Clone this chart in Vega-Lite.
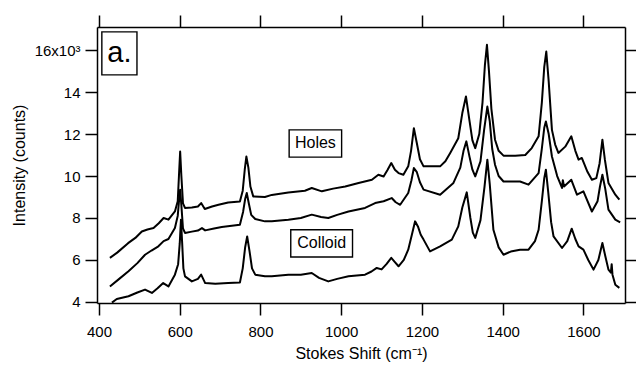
{
  "$schema": "https://vega.github.io/schema/vega-lite/v6.json",
  "width": 528,
  "height": 276,
  "autosize": {"type": "none"},
  "padding": {"left": 97, "top": 27, "right": 11, "bottom": 62},
  "background": "white",
  "config": {
    "view": {"stroke": null},
    "font": "Liberation Sans",
    "axis": {
      "grid": false,
      "domainColor": "black",
      "domainWidth": 1.5,
      "tickColor": "black",
      "tickWidth": 1.5,
      "tickSize": 12,
      "labelFont": "Liberation Sans",
      "labelFontSize": 15,
      "labelColor": "black",
      "titleFont": "Liberation Sans",
      "titleFontSize": 16,
      "titleFontWeight": "normal",
      "titleColor": "black"
    }
  },
  "datasets": {
    "spectra": [
      {"series": "Holes", "shift": 427, "counts": 6.1},
      {"series": "Holes", "shift": 445, "counts": 6.35},
      {"series": "Holes", "shift": 472, "counts": 6.8},
      {"series": "Holes", "shift": 490, "counts": 7.05},
      {"series": "Holes", "shift": 506, "counts": 7.36},
      {"series": "Holes", "shift": 520, "counts": 7.45},
      {"series": "Holes", "shift": 535, "counts": 7.52},
      {"series": "Holes", "shift": 548, "counts": 7.75},
      {"series": "Holes", "shift": 560, "counts": 8.0},
      {"series": "Holes", "shift": 572, "counts": 7.92},
      {"series": "Holes", "shift": 588, "counts": 8.31},
      {"series": "Holes", "shift": 595, "counts": 8.8},
      {"series": "Holes", "shift": 598, "counts": 10.0},
      {"series": "Holes", "shift": 601, "counts": 11.17},
      {"series": "Holes", "shift": 604, "counts": 10.0},
      {"series": "Holes", "shift": 608, "counts": 8.7},
      {"series": "Holes", "shift": 613, "counts": 8.48},
      {"series": "Holes", "shift": 630, "counts": 8.5},
      {"series": "Holes", "shift": 645, "counts": 8.55},
      {"series": "Holes", "shift": 653, "counts": 8.71},
      {"series": "Holes", "shift": 662, "counts": 8.43},
      {"series": "Holes", "shift": 680, "counts": 8.55},
      {"series": "Holes", "shift": 696, "counts": 8.63},
      {"series": "Holes", "shift": 720, "counts": 8.74},
      {"series": "Holes", "shift": 749, "counts": 8.79},
      {"series": "Holes", "shift": 756, "counts": 9.3},
      {"series": "Holes", "shift": 761, "counts": 10.3},
      {"series": "Holes", "shift": 765, "counts": 10.93},
      {"series": "Holes", "shift": 770, "counts": 10.4},
      {"series": "Holes", "shift": 775, "counts": 9.5},
      {"series": "Holes", "shift": 782, "counts": 9.03},
      {"series": "Holes", "shift": 811, "counts": 9.0},
      {"series": "Holes", "shift": 828, "counts": 9.1},
      {"series": "Holes", "shift": 869, "counts": 9.22},
      {"series": "Holes", "shift": 910, "counts": 9.3},
      {"series": "Holes", "shift": 927, "counts": 9.43},
      {"series": "Holes", "shift": 952, "counts": 9.27},
      {"series": "Holes", "shift": 980, "counts": 9.4},
      {"series": "Holes", "shift": 1010, "counts": 9.5},
      {"series": "Holes", "shift": 1043, "counts": 9.67},
      {"series": "Holes", "shift": 1076, "counts": 9.82},
      {"series": "Holes", "shift": 1092, "counts": 10.06},
      {"series": "Holes", "shift": 1105, "counts": 9.98},
      {"series": "Holes", "shift": 1115, "counts": 10.3},
      {"series": "Holes", "shift": 1124, "counts": 10.62},
      {"series": "Holes", "shift": 1133, "counts": 10.3},
      {"series": "Holes", "shift": 1142, "counts": 10.14},
      {"series": "Holes", "shift": 1154, "counts": 10.06},
      {"series": "Holes", "shift": 1166, "counts": 10.46},
      {"series": "Holes", "shift": 1173, "counts": 11.2},
      {"series": "Holes", "shift": 1180, "counts": 12.28},
      {"series": "Holes", "shift": 1187, "counts": 11.6},
      {"series": "Holes", "shift": 1195, "counts": 10.8},
      {"series": "Holes", "shift": 1204, "counts": 10.46},
      {"series": "Holes", "shift": 1245, "counts": 10.46},
      {"series": "Holes", "shift": 1258, "counts": 10.7},
      {"series": "Holes", "shift": 1270, "counts": 11.1},
      {"series": "Holes", "shift": 1290, "counts": 11.8},
      {"series": "Holes", "shift": 1300, "counts": 13.0},
      {"series": "Holes", "shift": 1309, "counts": 13.79},
      {"series": "Holes", "shift": 1318, "counts": 12.6},
      {"series": "Holes", "shift": 1325, "counts": 11.7},
      {"series": "Holes", "shift": 1332, "counts": 11.33},
      {"series": "Holes", "shift": 1342, "counts": 12.0},
      {"series": "Holes", "shift": 1350, "counts": 13.5},
      {"series": "Holes", "shift": 1356, "counts": 15.3},
      {"series": "Holes", "shift": 1361, "counts": 16.25},
      {"series": "Holes", "shift": 1366, "counts": 15.0},
      {"series": "Holes", "shift": 1372, "counts": 13.2},
      {"series": "Holes", "shift": 1381, "counts": 11.73},
      {"series": "Holes", "shift": 1390, "counts": 11.2},
      {"series": "Holes", "shift": 1402, "counts": 10.97},
      {"series": "Holes", "shift": 1431, "counts": 10.97},
      {"series": "Holes", "shift": 1456, "counts": 11.0},
      {"series": "Holes", "shift": 1472, "counts": 11.33},
      {"series": "Holes", "shift": 1489, "counts": 11.89},
      {"series": "Holes", "shift": 1497, "counts": 13.5},
      {"series": "Holes", "shift": 1503, "counts": 15.2},
      {"series": "Holes", "shift": 1508, "counts": 15.93},
      {"series": "Holes", "shift": 1514, "counts": 14.5},
      {"series": "Holes", "shift": 1522, "counts": 12.2},
      {"series": "Holes", "shift": 1530, "counts": 11.5},
      {"series": "Holes", "shift": 1538, "counts": 11.1},
      {"series": "Holes", "shift": 1555, "counts": 11.4},
      {"series": "Holes", "shift": 1570, "counts": 11.89},
      {"series": "Holes", "shift": 1580, "counts": 11.2},
      {"series": "Holes", "shift": 1588, "counts": 10.78},
      {"series": "Holes", "shift": 1596, "counts": 10.86},
      {"series": "Holes", "shift": 1610, "counts": 10.2},
      {"series": "Holes", "shift": 1621, "counts": 9.82},
      {"series": "Holes", "shift": 1632, "counts": 9.9},
      {"series": "Holes", "shift": 1640, "counts": 10.6},
      {"series": "Holes", "shift": 1647, "counts": 11.73},
      {"series": "Holes", "shift": 1653, "counts": 10.8},
      {"series": "Holes", "shift": 1662, "counts": 9.67},
      {"series": "Holes", "shift": 1679, "counts": 9.11},
      {"series": "Holes", "shift": 1689, "counts": 8.87},

      {"series": "Middle", "shift": 427, "counts": 4.74},
      {"series": "Middle", "shift": 450, "counts": 5.1},
      {"series": "Middle", "shift": 473, "counts": 5.46},
      {"series": "Middle", "shift": 495, "counts": 5.85},
      {"series": "Middle", "shift": 514, "counts": 6.25},
      {"series": "Middle", "shift": 530, "counts": 6.45},
      {"series": "Middle", "shift": 547, "counts": 6.65},
      {"series": "Middle", "shift": 560, "counts": 6.9},
      {"series": "Middle", "shift": 572, "counts": 7.0},
      {"series": "Middle", "shift": 588, "counts": 7.52},
      {"series": "Middle", "shift": 595, "counts": 8.1},
      {"series": "Middle", "shift": 599, "counts": 9.0},
      {"series": "Middle", "shift": 601, "counts": 9.35},
      {"series": "Middle", "shift": 604, "counts": 8.6},
      {"series": "Middle", "shift": 608, "counts": 7.5},
      {"series": "Middle", "shift": 613, "counts": 7.29},
      {"series": "Middle", "shift": 630, "counts": 7.35},
      {"series": "Middle", "shift": 645, "counts": 7.4},
      {"series": "Middle", "shift": 655, "counts": 7.52},
      {"series": "Middle", "shift": 663, "counts": 7.41},
      {"series": "Middle", "shift": 685, "counts": 7.5},
      {"series": "Middle", "shift": 704, "counts": 7.57},
      {"series": "Middle", "shift": 749, "counts": 7.68},
      {"series": "Middle", "shift": 757, "counts": 8.3},
      {"series": "Middle", "shift": 762, "counts": 8.9},
      {"series": "Middle", "shift": 766, "counts": 9.19},
      {"series": "Middle", "shift": 771, "counts": 8.7},
      {"series": "Middle", "shift": 777, "counts": 8.15},
      {"series": "Middle", "shift": 787, "counts": 7.95},
      {"series": "Middle", "shift": 811, "counts": 7.84},
      {"series": "Middle", "shift": 828, "counts": 7.84},
      {"series": "Middle", "shift": 869, "counts": 7.92},
      {"series": "Middle", "shift": 900, "counts": 8.0},
      {"series": "Middle", "shift": 927, "counts": 8.16},
      {"series": "Middle", "shift": 950, "counts": 8.05},
      {"series": "Middle", "shift": 968, "counts": 8.0},
      {"series": "Middle", "shift": 990, "counts": 8.15},
      {"series": "Middle", "shift": 1018, "counts": 8.31},
      {"series": "Middle", "shift": 1059, "counts": 8.48},
      {"series": "Middle", "shift": 1084, "counts": 8.71},
      {"series": "Middle", "shift": 1105, "counts": 8.8},
      {"series": "Middle", "shift": 1125, "counts": 8.95},
      {"series": "Middle", "shift": 1135, "counts": 8.75},
      {"series": "Middle", "shift": 1146, "counts": 8.63},
      {"series": "Middle", "shift": 1166, "counts": 9.19},
      {"series": "Middle", "shift": 1174, "counts": 9.8},
      {"series": "Middle", "shift": 1180, "counts": 10.38},
      {"series": "Middle", "shift": 1187, "counts": 10.2},
      {"series": "Middle", "shift": 1195, "counts": 9.7},
      {"series": "Middle", "shift": 1204, "counts": 9.35},
      {"series": "Middle", "shift": 1245, "counts": 9.11},
      {"series": "Middle", "shift": 1278, "counts": 9.67},
      {"series": "Middle", "shift": 1295, "counts": 10.4},
      {"series": "Middle", "shift": 1303, "counts": 11.2},
      {"series": "Middle", "shift": 1310, "counts": 11.65},
      {"series": "Middle", "shift": 1318, "counts": 10.9},
      {"series": "Middle", "shift": 1325, "counts": 10.3},
      {"series": "Middle", "shift": 1332, "counts": 9.98},
      {"series": "Middle", "shift": 1345, "counts": 10.7},
      {"series": "Middle", "shift": 1354, "counts": 12.2},
      {"series": "Middle", "shift": 1362, "counts": 13.31},
      {"series": "Middle", "shift": 1368, "counts": 12.6},
      {"series": "Middle", "shift": 1374, "counts": 11.3},
      {"series": "Middle", "shift": 1381, "counts": 10.54},
      {"series": "Middle", "shift": 1390, "counts": 10.0},
      {"series": "Middle", "shift": 1402, "counts": 9.74},
      {"series": "Middle", "shift": 1443, "counts": 9.74},
      {"series": "Middle", "shift": 1464, "counts": 9.59},
      {"series": "Middle", "shift": 1489, "counts": 10.14},
      {"series": "Middle", "shift": 1497, "counts": 11.3},
      {"series": "Middle", "shift": 1503, "counts": 12.3},
      {"series": "Middle", "shift": 1507, "counts": 12.6},
      {"series": "Middle", "shift": 1514, "counts": 12.0},
      {"series": "Middle", "shift": 1522, "counts": 10.93},
      {"series": "Middle", "shift": 1535, "counts": 10.0},
      {"series": "Middle", "shift": 1547, "counts": 9.43},
      {"series": "Middle", "shift": 1549, "counts": 9.8},
      {"series": "Middle", "shift": 1552, "counts": 9.5},
      {"series": "Middle", "shift": 1570, "counts": 9.82},
      {"series": "Middle", "shift": 1584, "counts": 9.11},
      {"series": "Middle", "shift": 1600, "counts": 9.27},
      {"series": "Middle", "shift": 1621, "counts": 8.31},
      {"series": "Middle", "shift": 1635, "counts": 8.8},
      {"series": "Middle", "shift": 1641, "counts": 9.5},
      {"series": "Middle", "shift": 1647, "counts": 10.06},
      {"series": "Middle", "shift": 1654, "counts": 9.4},
      {"series": "Middle", "shift": 1662, "counts": 8.4},
      {"series": "Middle", "shift": 1679, "counts": 7.92},
      {"series": "Middle", "shift": 1691, "counts": 7.79},

      {"series": "Colloid", "shift": 432, "counts": 3.97},
      {"series": "Colloid", "shift": 444, "counts": 4.14},
      {"series": "Colloid", "shift": 473, "counts": 4.27},
      {"series": "Colloid", "shift": 495, "counts": 4.45},
      {"series": "Colloid", "shift": 514, "counts": 4.59},
      {"series": "Colloid", "shift": 531, "counts": 4.43},
      {"series": "Colloid", "shift": 545, "counts": 4.65},
      {"series": "Colloid", "shift": 559, "counts": 4.9},
      {"series": "Colloid", "shift": 572, "counts": 4.74},
      {"series": "Colloid", "shift": 588, "counts": 5.3},
      {"series": "Colloid", "shift": 596, "counts": 5.8},
      {"series": "Colloid", "shift": 600, "counts": 6.8},
      {"series": "Colloid", "shift": 603, "counts": 7.92},
      {"series": "Colloid", "shift": 606, "counts": 6.8},
      {"series": "Colloid", "shift": 609, "counts": 5.6},
      {"series": "Colloid", "shift": 613, "counts": 5.22},
      {"series": "Colloid", "shift": 630, "counts": 4.98},
      {"series": "Colloid", "shift": 645, "counts": 5.1},
      {"series": "Colloid", "shift": 653, "counts": 5.3},
      {"series": "Colloid", "shift": 663, "counts": 4.9},
      {"series": "Colloid", "shift": 688, "counts": 4.87},
      {"series": "Colloid", "shift": 720, "counts": 4.9},
      {"series": "Colloid", "shift": 749, "counts": 4.93},
      {"series": "Colloid", "shift": 756, "counts": 5.6},
      {"series": "Colloid", "shift": 762, "counts": 6.6},
      {"series": "Colloid", "shift": 767, "counts": 7.12},
      {"series": "Colloid", "shift": 773, "counts": 6.4},
      {"series": "Colloid", "shift": 779, "counts": 5.6},
      {"series": "Colloid", "shift": 787, "counts": 5.3},
      {"series": "Colloid", "shift": 811, "counts": 5.22},
      {"series": "Colloid", "shift": 828, "counts": 5.22},
      {"series": "Colloid", "shift": 869, "counts": 5.3},
      {"series": "Colloid", "shift": 900, "counts": 5.3},
      {"series": "Colloid", "shift": 927, "counts": 5.38},
      {"series": "Colloid", "shift": 945, "counts": 5.15},
      {"series": "Colloid", "shift": 968, "counts": 4.98},
      {"series": "Colloid", "shift": 990, "counts": 5.1},
      {"series": "Colloid", "shift": 1018, "counts": 5.22},
      {"series": "Colloid", "shift": 1059, "counts": 5.3},
      {"series": "Colloid", "shift": 1075, "counts": 5.45},
      {"series": "Colloid", "shift": 1088, "counts": 5.62},
      {"series": "Colloid", "shift": 1100, "counts": 5.55},
      {"series": "Colloid", "shift": 1112, "counts": 5.8},
      {"series": "Colloid", "shift": 1124, "counts": 6.1},
      {"series": "Colloid", "shift": 1133, "counts": 5.9},
      {"series": "Colloid", "shift": 1142, "counts": 5.7},
      {"series": "Colloid", "shift": 1155, "counts": 6.0},
      {"series": "Colloid", "shift": 1166, "counts": 6.49},
      {"series": "Colloid", "shift": 1175, "counts": 7.2},
      {"series": "Colloid", "shift": 1183, "counts": 7.84},
      {"series": "Colloid", "shift": 1190, "counts": 7.6},
      {"series": "Colloid", "shift": 1197, "counts": 7.2},
      {"series": "Colloid", "shift": 1204, "counts": 6.97},
      {"series": "Colloid", "shift": 1220, "counts": 6.41},
      {"series": "Colloid", "shift": 1245, "counts": 6.65},
      {"series": "Colloid", "shift": 1274, "counts": 6.97},
      {"series": "Colloid", "shift": 1290, "counts": 7.6},
      {"series": "Colloid", "shift": 1300, "counts": 8.5},
      {"series": "Colloid", "shift": 1311, "counts": 9.22},
      {"series": "Colloid", "shift": 1320, "counts": 8.0},
      {"series": "Colloid", "shift": 1326, "counts": 7.3},
      {"series": "Colloid", "shift": 1332, "counts": 7.05},
      {"series": "Colloid", "shift": 1345, "counts": 7.9},
      {"series": "Colloid", "shift": 1355, "counts": 9.5},
      {"series": "Colloid", "shift": 1362, "counts": 10.78},
      {"series": "Colloid", "shift": 1368, "counts": 9.6},
      {"series": "Colloid", "shift": 1377, "counts": 7.44},
      {"series": "Colloid", "shift": 1390, "counts": 6.6},
      {"series": "Colloid", "shift": 1402, "counts": 6.25},
      {"series": "Colloid", "shift": 1420, "counts": 6.4},
      {"series": "Colloid", "shift": 1443, "counts": 6.49},
      {"series": "Colloid", "shift": 1464, "counts": 6.49},
      {"series": "Colloid", "shift": 1480, "counts": 6.9},
      {"series": "Colloid", "shift": 1489, "counts": 7.44},
      {"series": "Colloid", "shift": 1497, "counts": 8.8},
      {"series": "Colloid", "shift": 1503, "counts": 9.9},
      {"series": "Colloid", "shift": 1507, "counts": 10.3},
      {"series": "Colloid", "shift": 1513, "counts": 9.2},
      {"series": "Colloid", "shift": 1520, "counts": 7.8},
      {"series": "Colloid", "shift": 1526, "counts": 7.12},
      {"series": "Colloid", "shift": 1547, "counts": 6.57},
      {"series": "Colloid", "shift": 1560, "counts": 6.9},
      {"series": "Colloid", "shift": 1571, "counts": 7.49},
      {"series": "Colloid", "shift": 1580, "counts": 7.0},
      {"series": "Colloid", "shift": 1588, "counts": 6.65},
      {"series": "Colloid", "shift": 1600, "counts": 6.49},
      {"series": "Colloid", "shift": 1612, "counts": 6.0},
      {"series": "Colloid", "shift": 1625, "counts": 5.54},
      {"series": "Colloid", "shift": 1637, "counts": 6.0},
      {"series": "Colloid", "shift": 1647, "counts": 6.81},
      {"series": "Colloid", "shift": 1654, "counts": 6.2},
      {"series": "Colloid", "shift": 1662, "counts": 5.54},
      {"series": "Colloid", "shift": 1668, "counts": 5.4},
      {"series": "Colloid", "shift": 1670, "counts": 5.8},
      {"series": "Colloid", "shift": 1672, "counts": 5.3},
      {"series": "Colloid", "shift": 1679, "counts": 4.82},
      {"series": "Colloid", "shift": 1689, "counts": 4.67}
    ],
    "labels": [
      {"label": "a.", "x0": 407, "x1": 494, "y0": 14.82, "y1": 16.87, "xc": 450.5, "yc": 15.85, "size": 29},
      {"label": "Holes", "x0": 871, "x1": 1001, "y0": 10.9, "y1": 12.2, "xc": 936, "yc": 11.55, "size": 16},
      {"label": "Colloid", "x0": 875, "x1": 1028, "y0": 6.14, "y1": 7.44, "xc": 951.5, "yc": 6.79, "size": 16}
    ]
  },
  "layer": [
    {
      "data": {"name": "spectra"},
      "mark": {"type": "line", "color": "black", "strokeWidth": 2, "strokeJoin": "round", "clip": true},
      "encoding": {
        "x": {
          "field": "shift", "type": "quantitative",
          "scale": {"domain": [395, 1703], "nice": false, "zero": false},
          "axis": {"orient": "bottom", "values": [400, 600, 800, 1000, 1200, 1400, 1600], "format": "d", "title": "Stokes Shift (cm⁻¹)", "labelPadding": 9, "titlePadding": 6}
        },
        "y": {
          "field": "counts", "type": "quantitative",
          "scale": {"domain": [3.95, 17.1], "nice": false, "zero": false},
          "axis": {"orient": "left", "values": [4, 6, 8, 10, 12, 14, 16], "title": "Intensity (counts)", "labelExpr": "datum.value == 16 ? '16x10³' : datum.label", "labelPadding": 5, "titlePadding": 7}
        },
        "detail": {"field": "series"}
      }
    },
    {
      "data": {"name": "labels"},
      "mark": {"type": "rect", "fill": "white", "stroke": "black", "strokeWidth": 1.4},
      "encoding": {
        "x": {"field": "x0", "type": "quantitative", "scale": {"domain": [395, 1703], "nice": false, "zero": false},
              "axis": {"orient": "top", "values": [400, 600, 800, 1000, 1200, 1400, 1600], "labels": false, "title": null}},
        "x2": {"field": "x1"},
        "y": {"field": "y0", "type": "quantitative", "scale": {"domain": [3.95, 17.1], "nice": false, "zero": false},
              "axis": {"orient": "right", "values": [4, 6, 8, 10, 12, 14, 16], "labels": false, "title": null}},
        "y2": {"field": "y1"}
      }
    },
    {
      "data": {"name": "labels"},
      "mark": {"type": "text", "font": "Liberation Sans", "color": "black", "align": "center", "baseline": "middle"},
      "encoding": {
        "x": {"field": "xc", "type": "quantitative", "axis": null},
        "y": {"field": "yc", "type": "quantitative", "axis": null},
        "text": {"field": "label"},
        "size": {"field": "size", "type": "quantitative", "scale": null, "legend": null}
      }
    }
  ],
  "resolve": {"axis": {"x": "independent", "y": "independent"}}
}
